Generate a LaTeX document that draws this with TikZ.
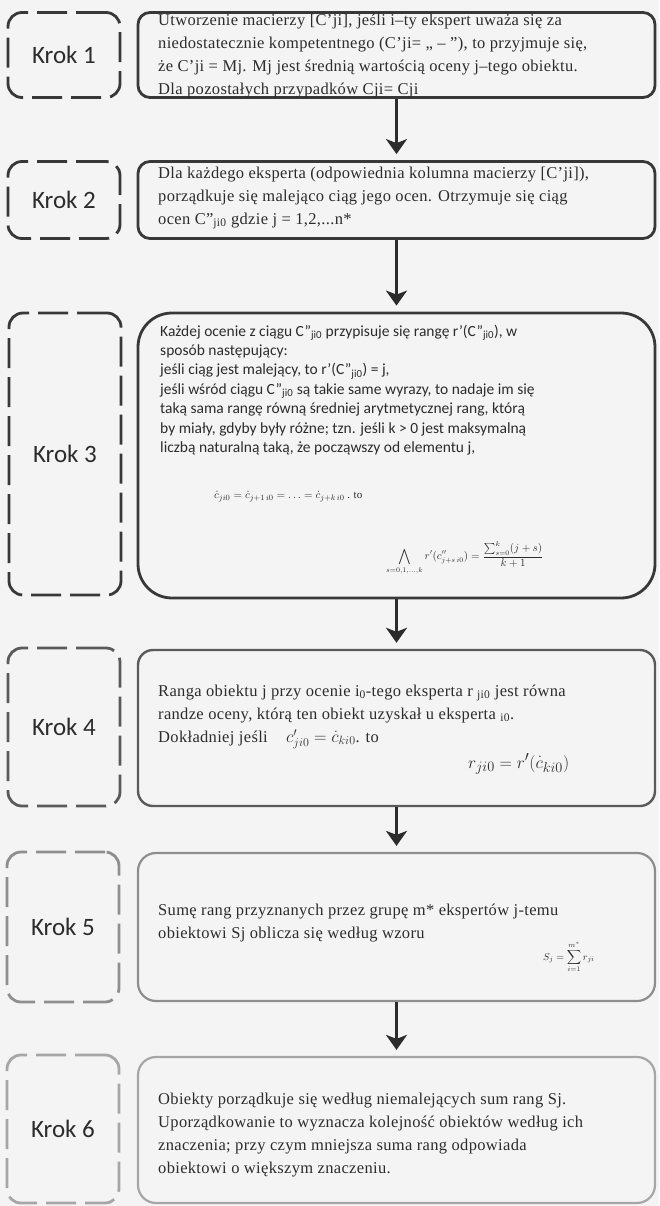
\documentclass[tikz,border=0pt]{standalone}
\usepackage{fontspec}
\setmainfont{Liberation Serif}
\setsansfont{Carlito}
\usepackage{amsmath}
\usetikzlibrary{arrows.meta}

\definecolor{tlo}{HTML}{F4F4F4}
\definecolor{tusz}{HTML}{2C2C2C}
\definecolor{szary1}{HTML}{383838}
\definecolor{szary2}{HTML}{5A5A5A}
\definecolor{szary3}{HTML}{8E8E8E}
\definecolor{szary4}{HTML}{A6A6A6}

\tikzset{
  krok/.style={draw=#1, line width=2.8pt, dash pattern=on 30pt off 9pt,
    rounded corners=14pt, minimum width=112pt, text=tusz,
    font=\sffamily\fontsize{25}{28}\selectfont},
  ramka/.style={draw=#1, line width=2.8pt, rounded corners=12pt,
    minimum width=517pt},
  opis/.style={anchor=west, align=left, inner sep=0pt, text=tusz,
    font=\addfontfeature{LetterSpace=2}\fontsize{16.5}{23}\selectfont},
  opisbez/.style={anchor=west, align=left, inner sep=0pt, text=tusz,
    font=\sffamily\fontsize{15.5}{19.4}\selectfont},
  wzor/.style={anchor=west, inner sep=0pt, text=tusz},
  strzalka/.style={draw=tusz, line width=3.8pt, shorten >=6pt,
    -{Stealth[length=15pt,width=21pt,inset=4pt]}}
}

\begin{document}
\begin{tikzpicture}[x=1pt,y=-1pt]
  \fill[tlo] (0,0) rectangle (659,1206);
  \useasboundingbox (0,0) rectangle (659,1206);

  %Krok 1
  \node[krok=szary1, minimum height=85pt] (k1) at (64,55) {Krok 1};
  \node[ramka=szary1, minimum height=85pt] (b1) at (396.5,55) {};
  \node[opis] (t1) at (158,56) {Utworzenie macierzy [C'ji], jeśli i–ty ekspert uważa się za\\
    niedostatecznie kompetentnego (C'ji= „ – ”), to przyjmuje się,\\
    że C'ji = Mj. Mj jest średnią wartością oceny j–tego obiektu.\\
    Dla pozostałych przypadków Cji= Cji};

  %Krok 2
  \node[krok=szary1, minimum height=77pt] (k2) at (64,200) {Krok 2};
  \node[ramka=szary1, minimum height=77pt] (b2) at (396.5,200) {};
  \node[opis] (t2) at (158,198) {Dla każdego eksperta (odpowiednia kolumna macierzy [C'ji]),\\
    porządkuje się malejąco ciąg jego ocen. Otrzymuje się ciąg\\
    ocen C”\textsubscript{ji0} gdzie j = 1,2,...n*};

  %Krok 3
  \node[krok=szary1, minimum height=282pt] (k3) at (65,454) {Krok 3};
  \node[ramka=szary1, rounded corners=34pt, minimum height=285pt] (b3) at (396.5,455.5) {};
  \node[opisbez] (t3) at (160,390) {Każdej ocenie z ciągu C”\textsubscript{ji0} przypisuje się rangę r’(C”\textsubscript{ji0}), w\\
    sposób następujący:\\
    jeśli ciąg jest malejący, to r’(C”\textsubscript{ji0}) = j,\\
    jeśli wśród ciągu C”\textsubscript{ji0} są takie same wyrazy, to nadaje im się\\
    taką sama rangę równą średniej arytmetycznej rang, którą\\
    by miały, gdyby były różne; tzn. jeśli k > 0 jest maksymalną\\
    liczbą naturalną taką, że począwszy od elementu j,};
  \node[wzor, font=\fontsize{11}{13}\selectfont] (w3a) at (214,497)
    {$\dot c_{ji0} = \dot c_{j+1\,i0} = \ldots = \dot c_{j+k\,i0}$ . to};
  \node[wzor, font=\fontsize{10.5}{12}\selectfont] (w3b) at (386,558)
    {$\displaystyle\bigwedge_{s=0,1,\ldots,k} r'(c''_{j+s\,i0}) = \frac{\sum_{s=0}^{k}(j+s)}{k+1}$};

  %Krok 4
  \node[krok=szary2, minimum height=158pt] (k4) at (64,727) {Krok 4};
  \node[ramka=szary2, line width=2.4pt, rounded corners=15pt, minimum height=156pt] (b4) at (396.5,728) {};
  \node[opis] (t4) at (158,717) {Ranga obiektu j przy ocenie i\textsubscript{0}-tego eksperta r \textsubscript{ji0} jest równa\\
    randze oceny, którą ten obiekt uzyskał u eksperta \textsubscript{i0}.\\
    Dokładniej jeśli \hspace{14pt}$c'_{ji0} = \dot c_{ki0}$. to};
  \node[wzor, font=\fontsize{19}{22}\selectfont] (w4) at (468,764) {$r_{ji0} = r'(\dot c_{ki0})$};

  %Krok 5
  \node[krok=szary3, minimum height=150pt] (k5) at (63,927) {Krok 5};
  \node[ramka=szary3, line width=2.2pt, rounded corners=18pt, minimum height=148pt] (b5) at (396.5,927) {};
  \node[opis] (t5) at (158,923) {Sumę rang przyznanych przez grupę m* ekspertów j-temu\\
    obiektowi Sj oblicza się według wzoru};
  \node[wzor, font=\fontsize{10}{12}\selectfont] (w5) at (543,957) {$S_j = \displaystyle\sum_{i=1}^{m^*} r_{ji}$};

  %Krok 6
  \node[krok=szary4, minimum height=148pt] (k6) at (63,1129) {Krok 6};
  \node[ramka=szary4, line width=2.2pt, rounded corners=18pt, minimum height=146pt] (b6) at (396.5,1130) {};
  \node[opis] (t6) at (158,1135) {Obiekty porządkuje się według niemalejących sum rang Sj.\\
    Uporządkowanie to wyznacza kolejność obiektów według ich\\
    znaczenia; przy czym mniejsza suma rang odpowiada\\
    obiektowi o większym znaczeniu.};

  %% strzalki
  \draw[strzalka] (b1.south) -- (b2.north);
  \draw[strzalka] (b2.south) -- (b3.north);
  \draw[strzalka] (b3.south) -- (b4.north);
  \draw[strzalka] (b4.south) -- (b5.north);
  \draw[strzalka] (b5.south) -- (b6.north);
\end{tikzpicture}
\end{document}
